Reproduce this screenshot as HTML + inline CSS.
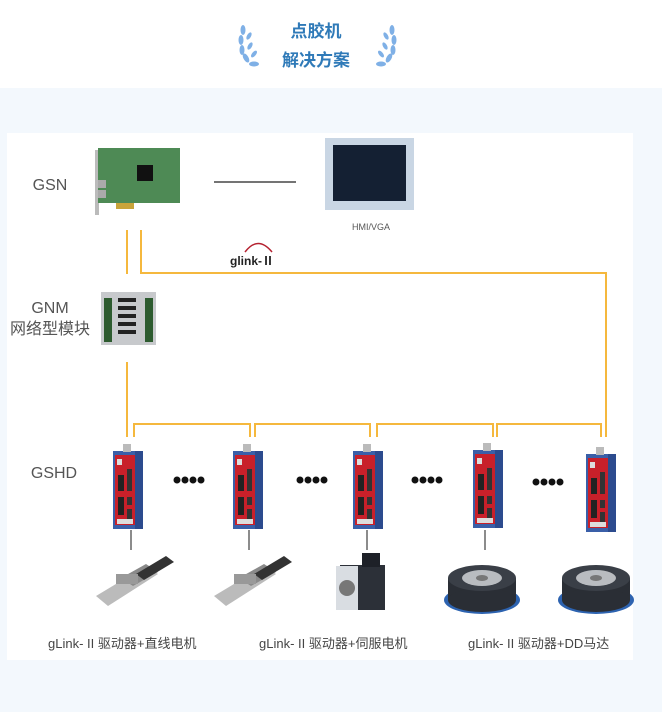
<!DOCTYPE html>
<html><head><meta charset="utf-8"><style>
body{margin:0;width:662px;height:707px;background:#f3f8fd;font-family:"Liberation Sans","Noto Sans CJK SC",sans-serif;overflow:hidden}
</style></head><body>
<svg width="662" height="707" xmlns="http://www.w3.org/2000/svg" font-family="Liberation Sans, Noto Sans CJK SC, sans-serif">
<defs>
<g id="drive">
 <rect x="0" y="4" width="30" height="78" fill="#3a5fa8"/>
 <rect x="22" y="4" width="8" height="78" fill="#2c4b8e"/>
 <rect x="2" y="8" width="20" height="70" fill="#c8202a"/>
 <rect x="10" y="-3" width="8" height="8" fill="#bbb"/>
 <rect x="5" y="28" width="6" height="16" fill="#222"/>
 <rect x="5" y="50" width="6" height="18" fill="#222"/>
 <rect x="14" y="22" width="5" height="22" fill="#333"/>
 <rect x="14" y="50" width="5" height="8" fill="#333"/>
 <rect x="14" y="62" width="5" height="10" fill="#333"/>
 <rect x="4" y="12" width="5" height="6" fill="#ddd"/>
 <rect x="4" y="72" width="16" height="5" fill="#ddd"/>
</g>
<g id="slide">
 <polygon points="0,40 50,10 62,18 12,50" fill="#bbb"/>
 <polygon points="25,22 50,8 62,16 37,30" fill="#8a8a8a"/>
 <polygon points="40,18 70,0 78,6 48,24" fill="#333"/>
 <rect x="20" y="18" width="22" height="10" fill="#999"/>
</g>
<g id="dd">
 <ellipse cx="0" cy="22" rx="38" ry="14" fill="#2d63b0"/>
 <rect x="-34" y="0" width="68" height="22" fill="#2a2e35"/>
 <ellipse cx="0" cy="22" rx="34" ry="12" fill="#2a2e35"/>
 <ellipse cx="0" cy="0" rx="34" ry="13" fill="#3a3f47"/>
 <ellipse cx="0" cy="0" rx="20" ry="8" fill="#b9bcc0"/>
 <ellipse cx="0" cy="0" rx="6" ry="3" fill="#777"/>
</g>
</defs>
<rect x="0" y="0" width="662" height="88" fill="#fff"/>
<rect x="7" y="133" width="626" height="527" fill="#fff"/>
<text x="316" y="37" text-anchor="middle" font-size="17" font-weight="bold" fill="#2f7ab8">点胶机</text>
<text x="316" y="66" text-anchor="middle" font-size="17" font-weight="bold" fill="#2f7ab8">解决方案</text>
<g fill="#7fb0e6">
 <ellipse cx="243" cy="30" rx="2.5" ry="5"/><ellipse cx="241" cy="40" rx="2.5" ry="5"/><ellipse cx="242" cy="50" rx="2.5" ry="5"/><ellipse cx="246" cy="58" rx="2.5" ry="5" transform="rotate(-30 246 58)"/><ellipse cx="254" cy="64" rx="5" ry="2.5"/>
 <ellipse cx="249" cy="36" rx="2" ry="4" transform="rotate(30 249 36)"/><ellipse cx="250" cy="46" rx="2" ry="4" transform="rotate(30 250 46)"/><ellipse cx="254" cy="54" rx="2" ry="4" transform="rotate(40 254 54)"/>
 <ellipse cx="392" cy="30" rx="2.5" ry="5"/><ellipse cx="394" cy="40" rx="2.5" ry="5"/><ellipse cx="393" cy="50" rx="2.5" ry="5"/><ellipse cx="389" cy="58" rx="2.5" ry="5" transform="rotate(30 389 58)"/><ellipse cx="381" cy="64" rx="5" ry="2.5"/>
 <ellipse cx="386" cy="36" rx="2" ry="4" transform="rotate(-30 386 36)"/><ellipse cx="385" cy="46" rx="2" ry="4" transform="rotate(-30 385 46)"/><ellipse cx="381" cy="54" rx="2" ry="4" transform="rotate(-40 381 54)"/>
</g>
<text x="50" y="190" text-anchor="middle" font-size="16" fill="#555">GSN</text>
<text x="50" y="313" text-anchor="middle" font-size="16" fill="#555">GNM</text>
<text x="50" y="334" text-anchor="middle" font-size="16" fill="#555">网络型模块</text>
<text x="54" y="478" text-anchor="middle" font-size="16" fill="#555">GSHD</text>
<rect x="95" y="150" width="4" height="65" fill="#bbb"/>
<rect x="98" y="148" width="82" height="55" fill="#4e8a55"/>
<rect x="116" y="203" width="18" height="6" fill="#c9a43a"/>
<rect x="137" y="165" width="16" height="16" fill="#111"/>
<rect x="98" y="180" width="8" height="8" fill="#aaa"/><rect x="98" y="190" width="8" height="8" fill="#aaa"/>
<line x1="214" y1="182" x2="296" y2="182" stroke="#222" stroke-width="1.3"/>
<rect x="325" y="138" width="89" height="72" fill="#c9d6e4"/>
<rect x="333" y="145" width="73" height="56" fill="#142033"/>
<text x="371" y="230" text-anchor="middle" font-size="9" fill="#555">HMI/VGA</text>
<text x="230" y="265" font-size="12" font-weight="bold" fill="#222">glink-Ⅱ</text>
<path d="M245 252 Q258 235 272 252" stroke="#b52230" stroke-width="1.5" fill="none"/>
<rect x="101" y="292" width="55" height="53" fill="#c7c9cc"/>
<rect x="104" y="298" width="8" height="44" fill="#2d5b2f"/>
<rect x="145" y="298" width="8" height="44" fill="#2d5b2f"/>
<g fill="#222"><rect x="118" y="298" width="18" height="4"/><rect x="118" y="306" width="18" height="4"/><rect x="118" y="314" width="18" height="4"/><rect x="118" y="322" width="18" height="4"/><rect x="118" y="330" width="18" height="4"/></g>
<g stroke="#f5b83d" stroke-width="2" fill="none">
 <line x1="127" y1="230" x2="127" y2="274"/>
 <polyline points="141,230 141,273 606,273 606,437"/>
 <line x1="127" y1="362" x2="127" y2="437"/>
 <polyline points="134,437 134,424 250,424 250,437"/>
 <polyline points="255,437 255,424 370,424 370,437"/>
 <polyline points="377,437 377,424 493,424 493,437"/>
 <polyline points="497,437 497,424 601,424 601,437"/>
</g>
<use href="#drive" x="113" y="447"/>
<use href="#drive" x="233" y="447"/>
<use href="#drive" x="353" y="447"/>
<use href="#drive" x="473" y="446"/>
<use href="#drive" x="586" y="450"/>
<g fill="#111">
 <circle cx="177" cy="480" r="3.5"/><circle cx="185" cy="480" r="3.5"/><circle cx="193" cy="480" r="3.5"/><circle cx="201" cy="480" r="3.5"/>
 <circle cx="300" cy="480" r="3.5"/><circle cx="308" cy="480" r="3.5"/><circle cx="316" cy="480" r="3.5"/><circle cx="324" cy="480" r="3.5"/>
 <circle cx="415" cy="480" r="3.5"/><circle cx="423" cy="480" r="3.5"/><circle cx="431" cy="480" r="3.5"/><circle cx="439" cy="480" r="3.5"/>
 <circle cx="536" cy="482" r="3.5"/><circle cx="544" cy="482" r="3.5"/><circle cx="552" cy="482" r="3.5"/><circle cx="560" cy="482" r="3.5"/>
</g>
<g stroke="#666" stroke-width="1.5">
 <line x1="131" y1="530" x2="131" y2="550"/><line x1="249" y1="530" x2="249" y2="550"/><line x1="367" y1="530" x2="367" y2="550"/><line x1="485" y1="530" x2="485" y2="550"/>
</g>
<use href="#slide" x="96" y="556"/>
<use href="#slide" x="214" y="556"/>
<rect x="340" y="565" width="45" height="45" fill="#2c3038"/>
<rect x="362" y="553" width="18" height="14" fill="#1e2128"/>
<rect x="336" y="566" width="22" height="44" fill="#d9dde2"/>
<circle cx="347" cy="588" r="8" fill="#777"/>
<use href="#dd" x="482" y="578"/>
<use href="#dd" x="596" y="578"/>
<g font-size="13" fill="#444">
 <text x="48" y="648">gLink- II  驱动器+直线电机</text>
 <text x="259" y="648">gLink- II  驱动器+伺服电机</text>
 <text x="468" y="648">gLink- II  驱动器+DD马达</text>
</g>
</svg>
</body></html>
